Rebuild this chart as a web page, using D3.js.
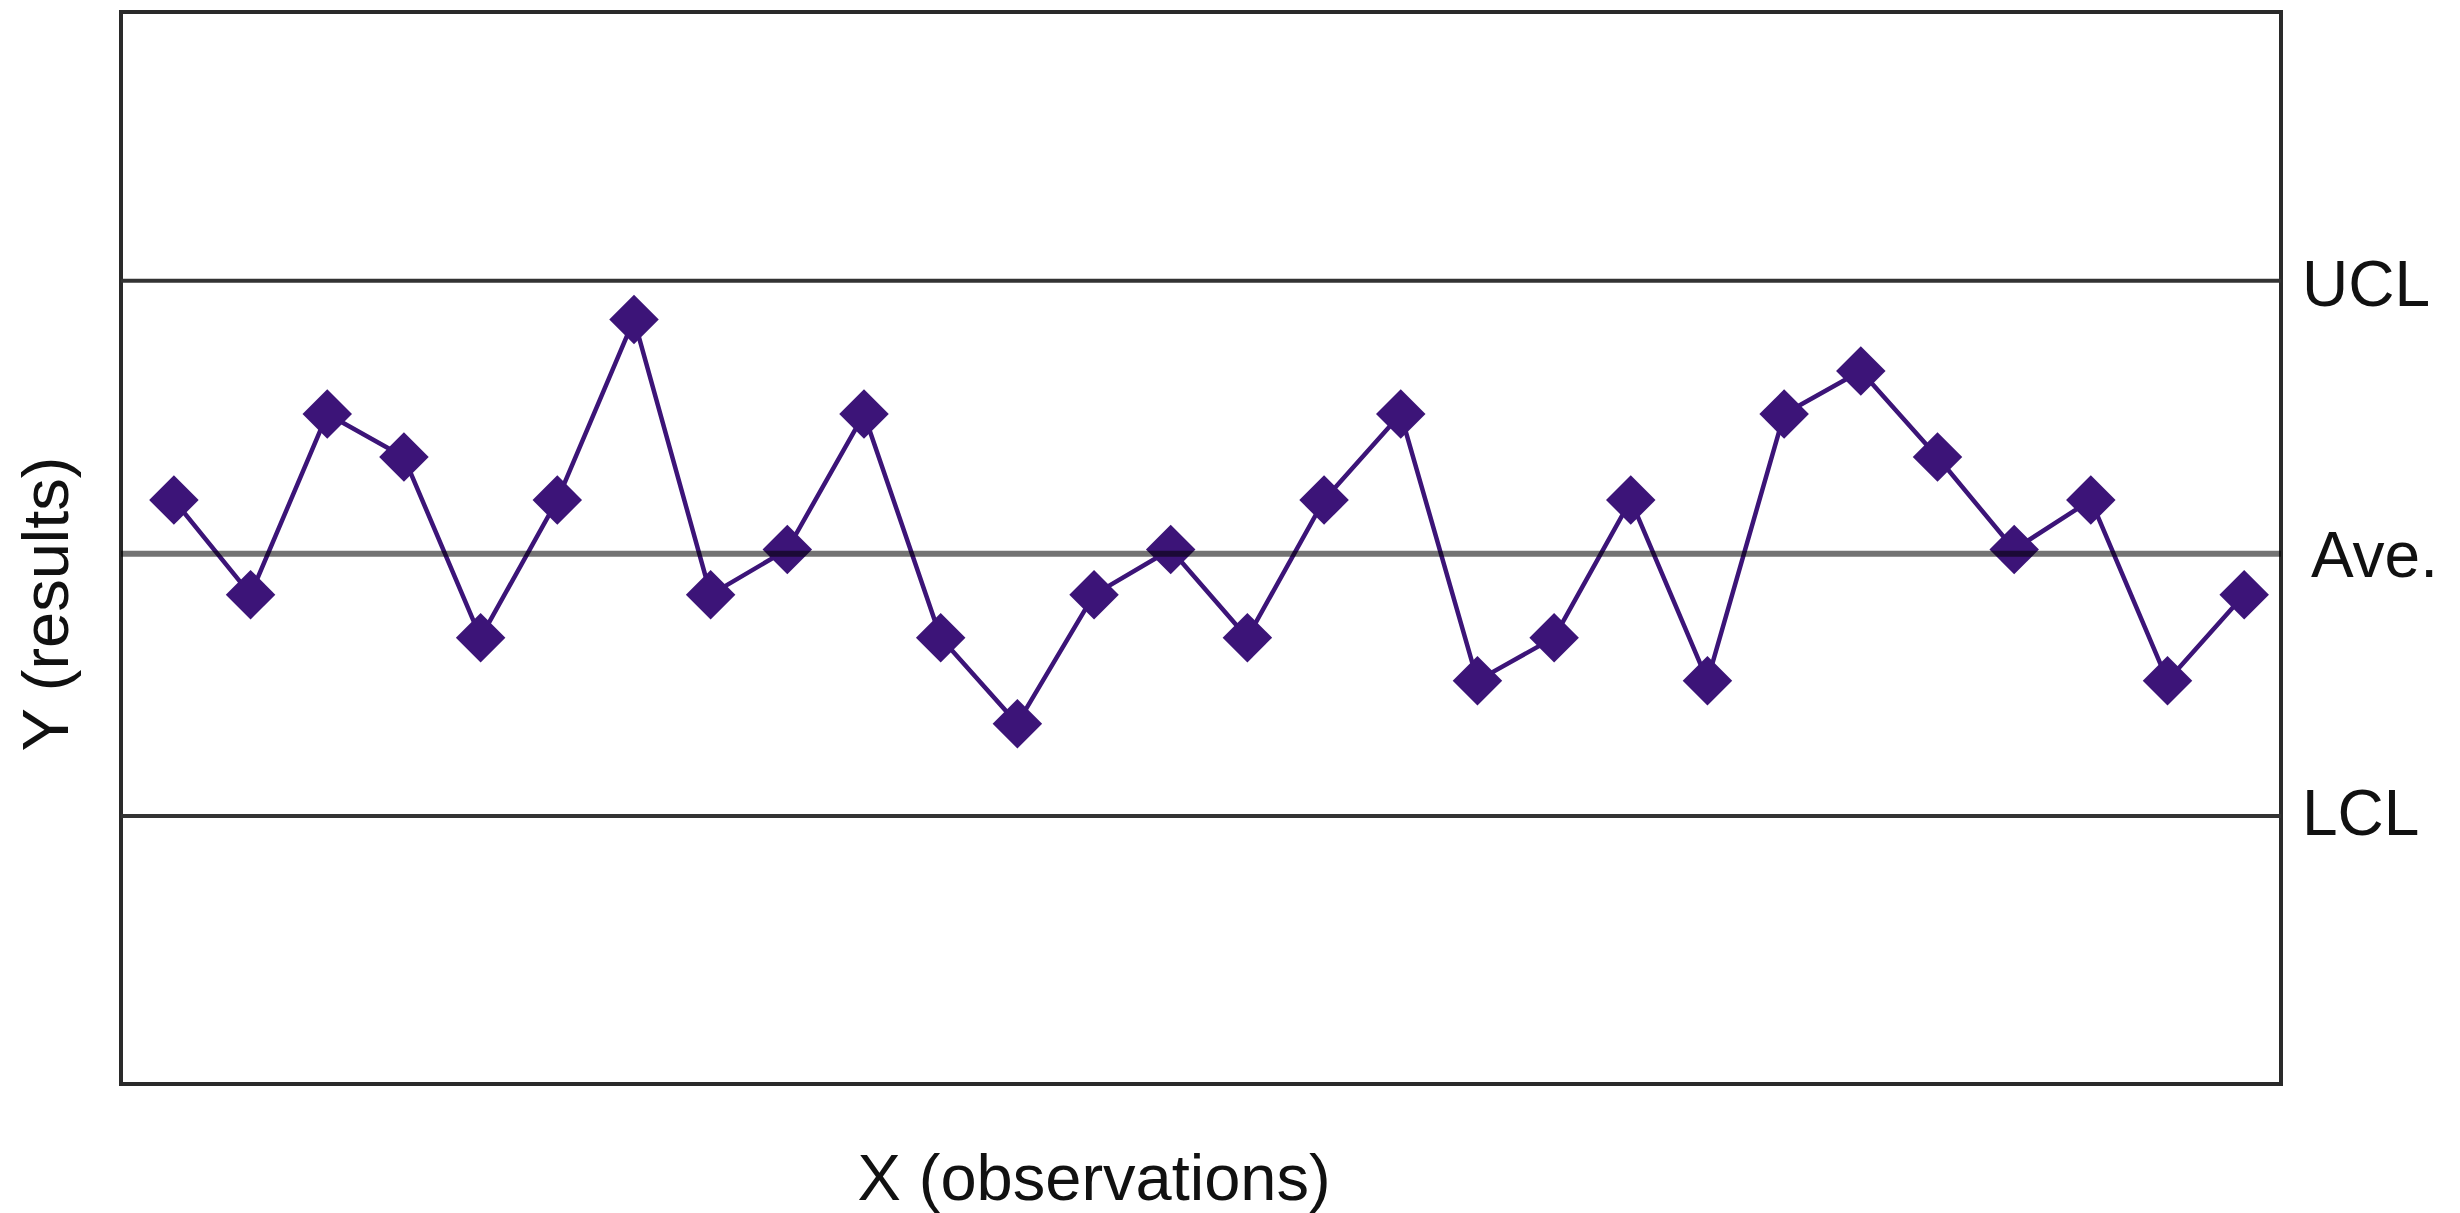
<!DOCTYPE html>
<html>
<head>
<meta charset="utf-8">
<script src="https://cdn.jsdelivr.net/npm/d3@7"></script>
<style>
  html, body { margin: 0; padding: 0; background: #fff; }
  svg { display: block; }
  text { font-family: "Liberation Sans", Arial, sans-serif; fill: #111; }
</style>
</head>
<body>
<svg id="chart" width="2460" height="1213"></svg>
<script>
// ---- data ----
const observations = d3.range(1, 29);
const results = [1.2, -1.0, 3.2, 2.2, -2.0, 1.2, 5.4, -1.0, 0.05, 3.2,
                 -2.0, -4.0, -1.0, 0.05, -2.0, 1.2, 3.2, -3.0, -2.0, 1.2,
                 -3.0, 3.2, 4.2, 2.2, 0.05, 1.2, -3.0, -1.0];
const limitNames = ["UCL", "Ave.", "LCL"];
const limitValues = [6.3, 0, -6.15];
const xDomain = [0.31, 28.48];
const yDomain = [-12.38, 12.55];
const xTitle = "X (observations)";
const yTitle = "Y (results)";

// ---- layout ----
const plot = { left: 121, right: 2281, top: 12, bottom: 1084 };
const purple = "#3c1478";

const svg = d3.select("#chart");
const x = d3.scaleLinear().domain(xDomain).range([plot.left, plot.right]);
const y = d3.scaleLinear().domain(yDomain).range([plot.bottom, plot.top]);

// plot frame
svg.append("rect")
  .attr("x", plot.left).attr("y", plot.top)
  .attr("width", plot.right - plot.left).attr("height", plot.bottom - plot.top)
  .attr("fill", "none").attr("stroke", "#2a2a2a").attr("stroke-width", 4);

// UCL / LCL lines (under data)
const limits = limitNames.map((n, i) => ({ name: n, value: limitValues[i] }));
svg.append("g").selectAll("line")
  .data(limits.filter(d => d.name !== "Ave."))
  .join("line")
  .attr("x1", plot.left).attr("x2", plot.right)
  .attr("y1", d => y(d.value)).attr("y2", d => y(d.value))
  .attr("stroke", "#333").attr("stroke-width", 4);

// series line
const pts = observations.map((o, i) => ({ o, v: results[i] }));
svg.append("path")
  .datum(pts)
  .attr("fill", "none")
  .attr("stroke", purple)
  .attr("stroke-width", 4.5)
  .attr("stroke-linejoin", "round")
  .attr("d", d3.line().x(d => x(d.o)).y(d => y(d.v)));

// diamond markers
const diamond = d3.symbol().type(d3.symbolSquare).size(35 * 35);
svg.append("g").selectAll("path")
  .data(pts)
  .join("path")
  .attr("d", diamond)
  .attr("transform", d => `translate(${x(d.o)},${y(d.v)}) rotate(45)`)
  .attr("fill", purple);

// average line (semi-transparent, over data)
svg.append("g").selectAll("line")
  .data(limits.filter(d => d.name === "Ave."))
  .join("line")
  .attr("x1", plot.left).attr("x2", plot.right)
  .attr("y1", d => y(d.value) + 2).attr("y2", d => y(d.value) + 2)
  .attr("stroke", "rgba(0,0,0,0.55)").attr("stroke-width", 6);

// limit labels
svg.append("g").selectAll("text")
  .data(limits)
  .join("text")
  .attr("x", d => plot.right + (d.name === "Ave." ? 30 : 21))
  .attr("y", d => y(d.value))
  .attr("dy", d => d.name === "LCL" ? "0.3em" : "0.4em")
  .attr("font-size", 64)
  .text(d => d.name);

// axis titles
svg.append("text")
  .attr("x", 1094).attr("y", 1200)
  .attr("text-anchor", "middle")
  .attr("font-size", 65)
  .text(xTitle);

svg.append("text")
  .attr("transform", "translate(68,604) rotate(-90)")
  .attr("text-anchor", "middle")
  .attr("font-size", 65)
  .text(yTitle);
</script>
</body>
</html>
